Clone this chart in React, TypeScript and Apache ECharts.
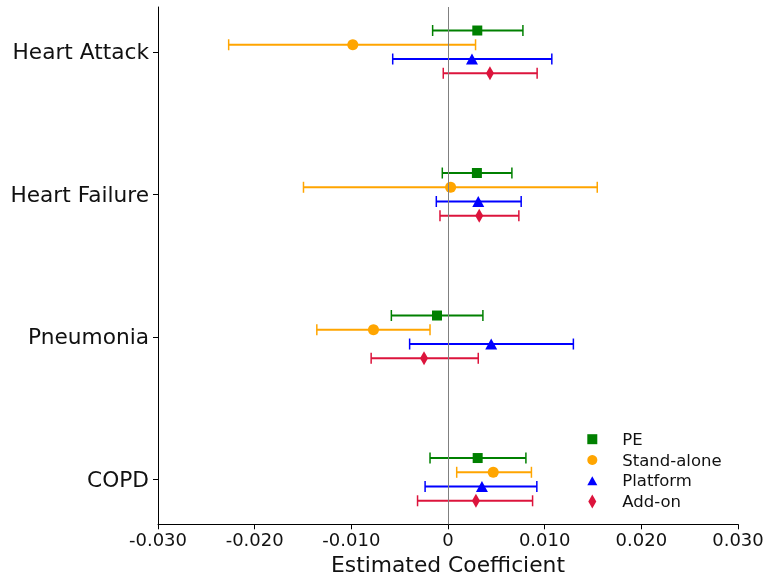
import React, { useEffect, useRef } from 'react';
import * as echarts from 'echarts';

const categories = ['Heart Attack', 'Heart Failure', 'Pneumonia', 'COPD'];
const seriesNames = ['PE', 'Stand-alone', 'Platform', 'Add-on'];

const peEst = [0.00303, 0.00299, -0.00114, 0.00307];
const peLow = [-0.00159, -0.00059, -0.00586, -0.00186];
const peHigh = [0.00775, 0.00661, 0.00361, 0.00806];

const saEst = [-0.00985, 0.00027, -0.00771, 0.00468];
const saLow = [-0.02269, -0.01495, -0.01357, 0.0009];
const saHigh = [0.00285, 0.01544, -0.00186, 0.00863];

const plEst = [0.00248, 0.00313, 0.00447, 0.00351];
const plLow = [-0.00572, -0.00121, -0.00397, -0.00237];
const plHigh = [0.01074, 0.00757, 0.01297, 0.00919];

const aoEst = [0.00434, 0.00323, -0.00248, 0.00289];
const aoLow = [-0.00049, -0.00083, -0.00795, -0.00315];
const aoHigh = [0.00922, 0.00733, 0.00313, 0.00875];

const FONT = 'DejaVu Sans';

export default function App() {
  const ref = useRef<HTMLDivElement>(null);
  useEffect(() => {
    const chart = echarts.init(ref.current!, null, { renderer: 'svg' });
    const groups = [
      { name: seriesNames[0], est: peEst, low: peLow, high: peHigh, color: '#008000', symbol: 'rect', size: 10, offset: 0.15, icon: 'path://M0,0H10V10H0Z' },
      { name: seriesNames[1], est: saEst, low: saLow, high: saHigh, color: '#FFA500', symbol: 'circle', size: 11, offset: 0.05, icon: 'circle' },
      { name: seriesNames[2], est: plEst, low: plLow, high: plHigh, color: '#0000FF', symbol: 'triangle', size: [12, 11], offset: -0.05, icon: 'path://M5,0L10,9L0,9Z' },
      { name: seriesNames[3], est: aoEst, low: aoLow, high: aoHigh, color: '#DC143C', symbol: 'diamond', size: [8, 14], offset: -0.15, icon: 'path://M4,0L8,7L4,14L0,7Z' },
    ];
    const yPos = (i: number) => categories.length - 1 - i;
    const series: any[] = [
      {
        type: 'scatter',
        name: 'zero',
        data: [],
        silent: true,
        z: 1,
        markLine: {
          silent: true,
          symbol: 'none',
          animation: false,
          label: { show: false },
          lineStyle: { color: '#808080', width: 1, type: 'solid' },
          data: [{ xAxis: 0 }],
        },
      },
    ];
    groups.forEach((g) => {
      series.push({
        type: 'custom',
        name: g.name + ' CI',
        silent: true,
        z: 2,
        data: categories.map((c, i) => [g.low[i], g.high[i], yPos(i) + g.offset]),
        encode: { x: [0, 1], y: 2 },
        renderItem: (params: any, api: any) => {
          const y = api.value(2);
          const p1 = api.coord([api.value(0), y]);
          const p2 = api.coord([api.value(1), y]);
          const cap = 5.5;
          return {
            type: 'group',
            children: [
              { type: 'line', shape: { x1: p1[0], y1: p1[1], x2: p2[0], y2: p2[1] }, style: { stroke: g.color, lineWidth: 2 } },
              { type: 'line', shape: { x1: p1[0], y1: p1[1] - cap, x2: p1[0], y2: p1[1] + cap }, style: { stroke: g.color, lineWidth: 1.5 } },
              { type: 'line', shape: { x1: p2[0], y1: p2[1] - cap, x2: p2[0], y2: p2[1] + cap }, style: { stroke: g.color, lineWidth: 1.5 } },
            ],
          };
        },
      });
      series.push({
        type: 'scatter',
        name: g.name,
        z: 3,
        symbol: g.symbol,
        symbolSize: g.size,
        itemStyle: { color: g.color, opacity: 1 },
        emphasis: { disabled: true },
        data: categories.map((c, i) => [g.est[i], yPos(i) + g.offset]),
      });
    });

    chart.setOption({
      animation: false,
      grid: { left: 158, right: 29, top: 7, bottom: 56.7, outerBoundsMode: 'none', containLabel: false },
      xAxis: {
        type: 'value',
        min: -0.03,
        max: 0.03,
        interval: 0.01,
        name: 'Estimated Coefficient',
        nameLocation: 'middle',
        nameGap: 29.5,
        nameTextStyle: { fontSize: 21.8, color: '#111', fontFamily: FONT },
        axisLine: { show: true, onZero: false, lineStyle: { color: '#000', width: 1 } },
        axisTick: { show: true, length: 5, lineStyle: { color: '#000', width: 1 } },
        axisLabel: {
          showMinLabel: true,
          showMaxLabel: true,
          fontSize: 18,
          color: '#111',
          fontFamily: FONT,
          margin: 6,
          formatter: (v: number) => (Math.abs(v) < 1e-9 ? '0' : v.toFixed(3)),
        },
        splitLine: { show: false },
      },
      yAxis: {
        type: 'value',
        min: -0.315,
        max: 3.315,
        splitLine: { show: false },
        axisLine: { show: true, onZero: false, lineStyle: { color: '#000', width: 1 } },
        axisTick: { show: true, length: 5, customValues: [0, 1, 2, 3], lineStyle: { color: '#000', width: 1 } },
        axisLabel: {
          customValues: [0, 1, 2, 3],
          fontSize: 21.7,
          color: '#111',
          fontFamily: FONT,
          margin: 9,
          formatter: (v: number) => categories[categories.length - 1 - Math.round(v)],
        },
      },
      legend: {
        data: groups.map((g) => ({ name: g.name, icon: g.icon })),
        orient: 'vertical',
        left: 582.3,
        top: 425.7,
        itemWidth: 10,
        itemHeight: 14,
        itemGap: 3.8,
        symbolKeepAspect: true,
        selectedMode: false,
        textStyle: { fontSize: 16.5, color: '#111', fontFamily: FONT, padding: [0, 0, 0, 20] },
      },
      series,
    });
    return () => chart.dispose();
  }, []);
  return <div ref={ref} style={{ position: 'fixed', left: 0, top: 0, width: 767, height: 581 }} />;
}
